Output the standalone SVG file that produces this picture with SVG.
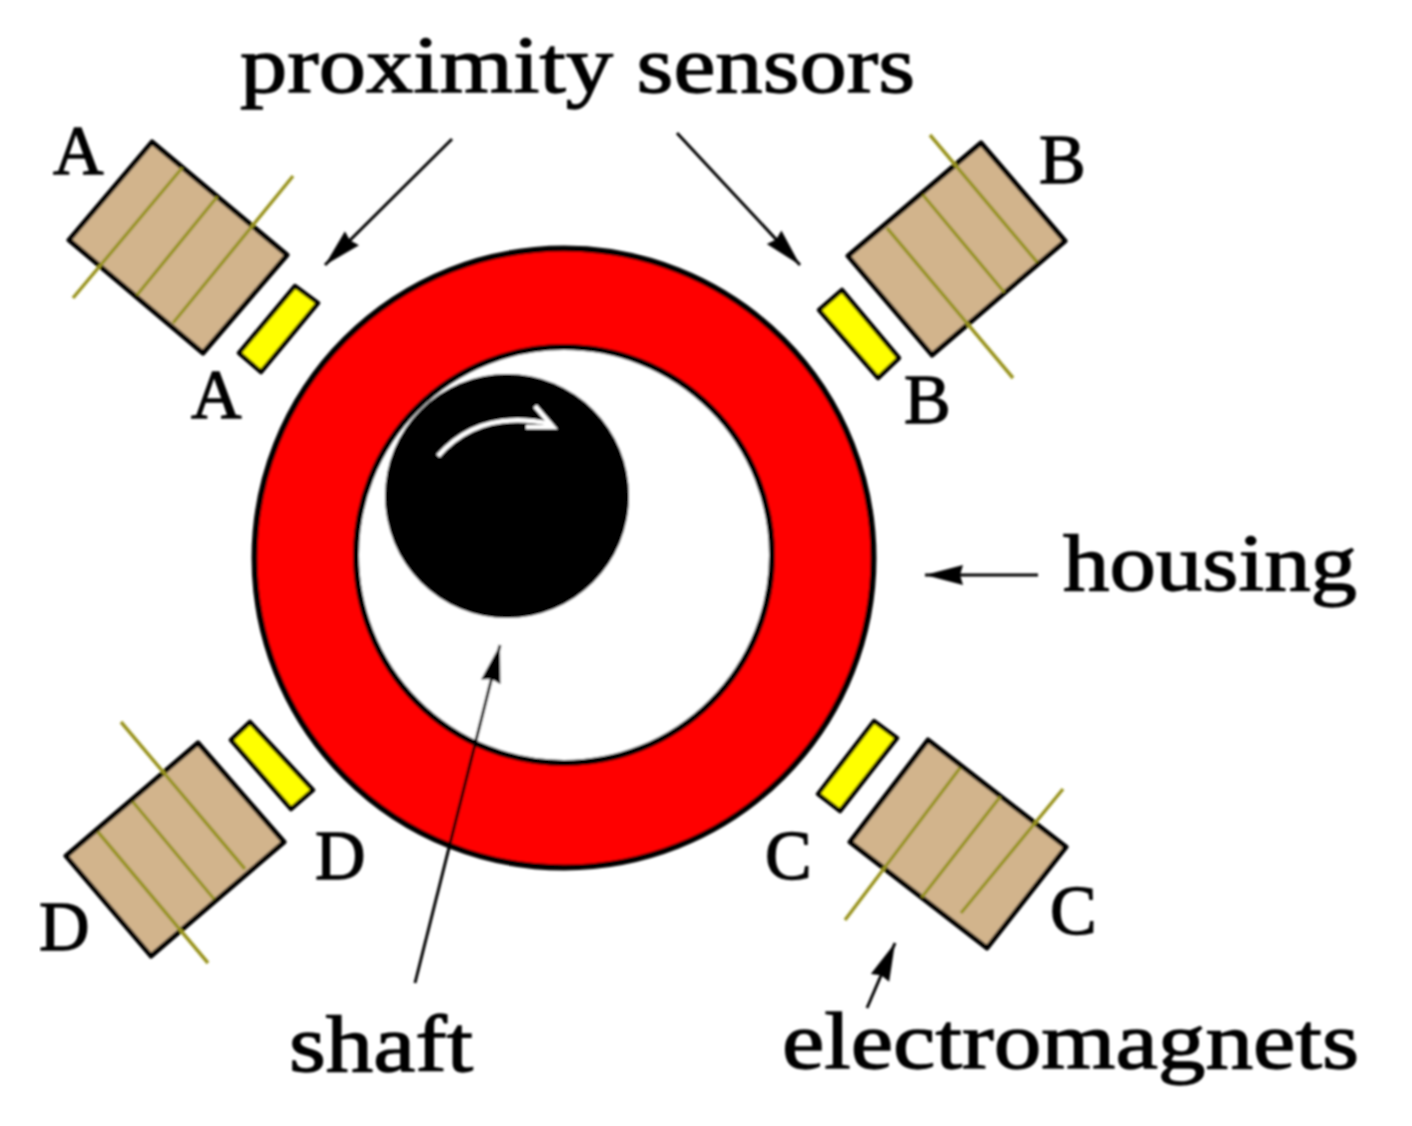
<svg xmlns="http://www.w3.org/2000/svg" width="1412" height="1126" viewBox="0 0 1412 1126">
<defs>
<marker id="ah" markerUnits="userSpaceOnUse" markerWidth="44" markerHeight="30" refX="38" refY="15" orient="auto" viewBox="0 0 44 30"><path d="M0 5 L38 15 L0 25 L3 15 Z" fill="#000"/></marker>
<filter id="soft" x="0" y="0" width="100%" height="100%"><feGaussianBlur stdDeviation="0.8"/></filter>
</defs>
<style>
.mag{fill:#d2b48c;stroke:#000;stroke-width:5;stroke-linejoin:round}
.coil{stroke:#9a9420;stroke-width:3.5;fill:none}
.sen{fill:#ff0;stroke:#000;stroke-width:4.5;stroke-linejoin:round}
.lbl{font-family:"Liberation Serif","Times New Roman",serif;fill:#000;stroke:#000;stroke-width:1.3}
.big{font-size:80px}
.let{font-size:70px}
.conn{stroke:#000;stroke-width:3;fill:none;marker-end:url(#ah)}
</style>
<rect width="1412" height="1126" fill="#fff"/>
<g filter="url(#soft)">
<g id="housing">
<circle cx="564" cy="558" r="309.500" fill="#f00" stroke="#000" stroke-width="6"/>
<circle cx="564" cy="555" r="208" fill="#fff" stroke="#000" stroke-width="6"/>
</g>
<g id="shaft">
<circle cx="507" cy="496" r="122" fill="#000"/>
<path d="M438 456 C466 424 505 414 551 424" fill="none" stroke="#fff" stroke-width="4.500"/>
<path d="M535 406 L553 427 L526 427" fill="none" stroke="#fff" stroke-width="4.500"/>
</g>
<g id="magnet-a">
<path class="mag" d="M152 142 L287 255 L203 353 L69 240 Z"/>
<path class="coil" d="M293 176 L173 323 M217 197 L137 295 M182 168 L73 298"/>
<text class="lbl let" x="53" y="174">A</text>
</g>
<g id="sensor-a"><path class="sen" d="M295 286 L318 303 L261 372 L239 353 Z"/><text class="lbl let" x="191" y="418">A</text></g>
<g id="magnet-b">
<path class="mag" d="M981 143 L1065 241 L932 355 L848 256 Z"/>
<path class="coil" d="M930 135 L1037 262 M923 195 L1004 292 M887 228 L1013 378"/>
<text class="lbl let" x="1039" y="183">B</text>
</g>
<g id="sensor-b"><path class="sen" d="M842 290 L899 358 L878 378 L819 310 Z"/><text class="lbl let" x="904" y="423">B</text></g>
<g id="magnet-c">
<path class="mag" d="M928 740 L1066 847 L987 948 L850 842 Z"/>
<path class="coil" d="M1063 789 L961 913 M1000 797 L922 897 M960 768 L845 920"/>
<text class="lbl let" x="1050" y="934">C</text>
</g>
<g id="sensor-c"><path class="sen" d="M874 721 L897 738 L840 811 L818 794 Z"/><text class="lbl let" x="765" y="879">C</text></g>
<g id="magnet-d">
<path class="mag" d="M198 743 L284 842 L151 956 L66 856 Z"/>
<path class="coil" d="M121 722 L245 869 M133 802 L214 899 M98 832 L208 963"/>
<text class="lbl let" x="39" y="950">D</text>
</g>
<g id="sensor-d"><path class="sen" d="M250 722 L313 790 L291 809 L231 740 Z"/><text class="lbl let" x="315" y="879">D</text></g>
<g id="connectors">
<path class="conn" d="M452 139 L325 265"/>
<path class="conn" d="M677 133 L800 265"/>
<path class="conn" d="M1038 575 L925 575"/>
<path class="conn" d="M415 983 L500 645"/>
<path class="conn" d="M867 1008 L895 943"/>
</g>
<g id="labels">
<text class="lbl big" x="240" y="92" textLength="675" lengthAdjust="spacingAndGlyphs">proximity sensors</text>
<text class="lbl big" x="1063" y="590" textLength="294" lengthAdjust="spacingAndGlyphs">housing</text>
<text class="lbl big" x="289" y="1071" textLength="184" lengthAdjust="spacingAndGlyphs">shaft</text>
<text class="lbl big" x="782" y="1068" textLength="577" lengthAdjust="spacingAndGlyphs">electromagnets</text>
</g>
</g>
</svg>
